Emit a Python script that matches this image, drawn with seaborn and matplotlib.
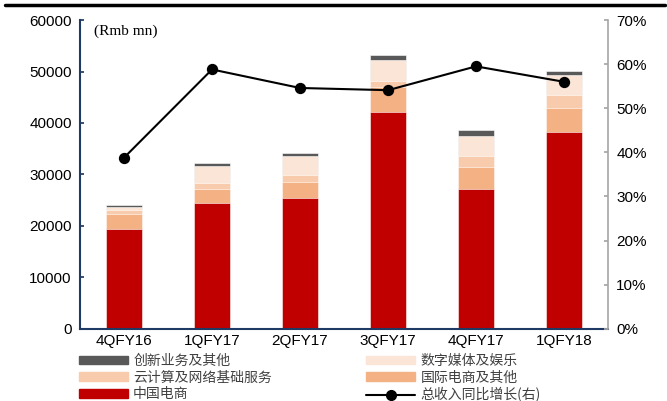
import numpy as np
import pandas as pd
import matplotlib
matplotlib.use("Agg")
import matplotlib.pyplot as plt
from matplotlib.lines import Line2D
from matplotlib.patches import Patch
from matplotlib.ticker import FixedLocator, FuncFormatter
import seaborn as sns

# data (Rmb mn)
quarters = ['4QFY16', '1QFY17', '2QFY17', '3QFY17', '4QFY17', '1QFY18']
china_commerce = [19400, 24500, 25400, 42100, 27200, 38200]
intl_commerce = [3000, 2700, 3050, 4870, 4290, 4750]
cloud = [600, 1170, 1360, 1170, 2140, 2450]
digital_media = [600, 3180, 3770, 4160, 3900, 3970]
innovation = [500, 580, 660, 840, 1030, 640]
# yoy growth of total revenue, %
growth = [38.8, 58.8, 54.6, 54.1, 59.5, 56.0]

labels = ['中国电商', '国际电商及其他', '云计算及网络基础服务', '数字媒体及娱乐', '创新业务及其他']
colors = ['#C00000', '#F4B183', '#F8CBAD', '#FBE5D6', '#595959']

sns.set_theme(style='white')
plt.rcParams['font.family'] = ['Liberation Sans', 'Noto Sans CJK SC', 'DejaVu Sans']
plt.rcParams['text.color'] = 'black'
plt.rcParams['xtick.color'] = 'black'
plt.rcParams['ytick.color'] = 'black'

df = pd.DataFrame({'quarter': quarters, labels[0]: china_commerce, labels[1]: intl_commerce,
                   labels[2]: cloud, labels[3]: digital_media, labels[4]: innovation})
cum = df[labels].cumsum(axis=1)

fig = plt.figure(figsize=(6.67, 4.01), dpi=100)
ax = fig.add_axes([0.12, 0.18, 0.7915, 0.77])

# stacked bars: draw cumulative totals from top layer down
for lab, col in reversed(list(zip(labels, colors))):
    sns.barplot(x=df['quarter'], y=cum[lab], color=col, saturation=1, width=0.4,
                edgecolor='white', linewidth=0.4, ax=ax)

ax.set_ylim(0, 60000)
ax.set_yticks(range(0, 60001, 10000))
ax.set_xlabel('')
ax.set_ylabel('')
ax.tick_params(axis='y', direction='in', length=3, color='#1F3A64', labelsize=11,
               labelcolor='black', pad=6)
ax.tick_params(axis='x', which='major', length=0, labelsize=11, labelcolor='black', pad=4)
ax.xaxis.set_minor_locator(FixedLocator(np.arange(-0.5, len(quarters), 1.0)))
ax.tick_params(axis='x', which='minor', direction='out', length=4, color='#1F3A64', width=1.2)
for s in ['top', 'right']:
    ax.spines[s].set_visible(False)
for s in ['left', 'bottom']:
    ax.spines[s].set_color('#1F3A64')
    ax.spines[s].set_linewidth(1.5)

ax2 = ax.twinx()
sns.pointplot(x=quarters, y=growth, color='black', markers='o', linestyles='-',
              markersize=7, linewidth=1.5, ax=ax2)
ax2.set_ylim(0, 70)
ax2.set_yticks(range(0, 71, 10))
ax2.yaxis.set_major_formatter(FuncFormatter(lambda v, p: f'{v:.0f}%'))
ax2.tick_params(axis='y', direction='in', length=3, color='#A6A6A6', labelsize=11,
                labelcolor='black', pad=6)
ax2.set_ylabel('')
for s in ['top', 'left', 'bottom']:
    ax2.spines[s].set_visible(False)
ax2.spines['right'].set_color('#A6A6A6')
ax2.spines['right'].set_linewidth(1.2)
ax.set_xlim(-0.5, len(quarters) - 0.5)
ax2.set_xlim(-0.5, len(quarters) - 0.5)

ax.text(0.027, 0.985, '(Rmb mn)', transform=ax.transAxes, ha='left', va='top',
        fontsize=11, color='black', family=['Liberation Serif', 'DejaVu Serif'])

# top rule
fig.add_artist(Line2D([0.008, 0.997], [0.987, 0.987], transform=fig.transFigure,
                      color='black', linewidth=2.5))

handles = [Patch(color=colors[4]), Patch(color=colors[2]), Patch(color=colors[0]),
           Patch(color=colors[3]), Patch(color=colors[1]),
           Line2D([], [], color='black', marker='o', markersize=7, linewidth=1.5)]
names = [labels[4], labels[2], labels[0], labels[3], labels[1], '总收入同比增长(右)']
leg = fig.legend(handles, names, ncol=2, loc='upper left', bbox_to_anchor=(0.108, 0.135),
                 frameon=False, handlelength=3.5, handleheight=0.55,
                 handletextpad=0.4, columnspacing=6.8, labelspacing=0.2, borderpad=0,
                 prop={'family': ['Noto Sans CJK SC', 'DejaVu Sans'], 'size': 10})
for t in leg.get_texts():
    t.set_color('#404040')

fig.savefig('out.png', dpi=100)
